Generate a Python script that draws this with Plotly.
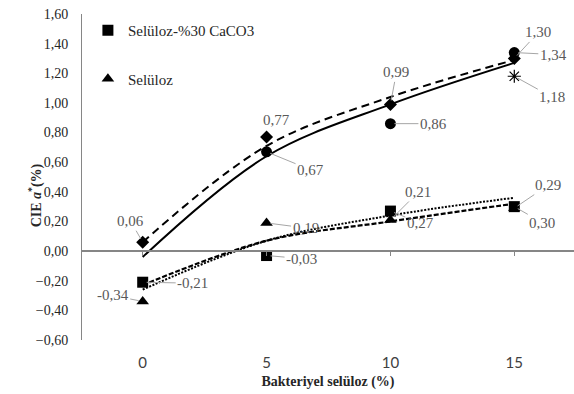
import plotly.graph_objects as go

# ---- data ----
x_vals = [0, 5, 10, 15]

diamond_x = [0, 5, 10, 15]
diamond_y = [0.06, 0.77, 0.99, 1.30]

circle_x = [5, 10, 15]
circle_y = [0.67, 0.86, 1.34]

star_x = [15]
star_y = [1.18]

square_y = [-0.21, -0.03, 0.27, 0.30]     # Selüloz-%30 CaCO3
triangle_y = [-0.34, 0.19, 0.21, 0.29]    # Selüloz

# trend lines (at x = 0, 5, 10, 15)
trend_upper_dash = [0.06, 0.71, 1.04, 1.29]
trend_upper_solid = [-0.04, 0.64, 0.99, 1.27]
trend_lower_dash = [-0.23, 0.07, 0.20, 0.32]
trend_lower_dot = [-0.26, 0.07, 0.24, 0.36]

y_ticks = [-0.6, -0.4, -0.2, 0.0, 0.2, 0.4, 0.6, 0.8, 1.0, 1.2, 1.4, 1.6]
x_ticks = [0, 5, 10, 15]

# labels: (x, y, text, ax, ay)
labels = [
    (0, 0.06, "0,06", -12, -21),
    (5, 0.67, "0,67", 44, 18),
    (10, 0.99, "0,99", 6, -32),
    (10, 0.86, "0,86", 43, 0),
    (15, 1.30, "1,30", 24, -26),
    (15, 1.34, "1,34", 39, 2),
    (15, 1.18, "1,18", 38, 21),
    (10, 0.21, "0,21", 28, -28),
    (10, 0.27, "0,27", 30, 12),
    (15, 0.29, "0,29", 34, -23),
    (15, 0.30, "0,30", 28, 16),
    (5, 0.19, "0,19", 39, 5),
    (5, -0.03, "-0,03", 35, 3),
    (0, -0.21, "-0,21", 50, 1),
    (0, -0.34, "-0,34", -30, -6),
]

SERIF = "Liberation Serif"
GRAY = "#868686"
LBL = "#595959"

fig = go.Figure()

# trend lines
fig.add_trace(go.Scatter(x=x_vals, y=trend_upper_dash, mode="lines", line_shape="spline",
                         line=dict(color="black", width=2, dash="8px,5px"), showlegend=False, hoverinfo="skip"))
fig.add_trace(go.Scatter(x=x_vals, y=trend_upper_solid, mode="lines", line_shape="spline",
                         line=dict(color="black", width=2), showlegend=False, hoverinfo="skip"))
fig.add_trace(go.Scatter(x=x_vals, y=trend_lower_dash, mode="lines", line_shape="spline",
                         line=dict(color="black", width=2.2, dash="5px,2px"), showlegend=False, hoverinfo="skip"))
fig.add_trace(go.Scatter(x=x_vals, y=trend_lower_dot, mode="lines", line_shape="spline",
                         line=dict(color="black", width=2, dash="2px,1.5px"), showlegend=False, hoverinfo="skip"))

# markers
fig.add_trace(go.Scatter(x=diamond_x, y=diamond_y, mode="markers",
                         marker=dict(symbol="diamond", color="black", size=10, opacity=1),
                         showlegend=False))
fig.add_trace(go.Scatter(x=circle_x, y=circle_y, mode="markers",
                         marker=dict(symbol="circle", color="black", size=11, opacity=1),
                         showlegend=False))
fig.add_trace(go.Scatter(x=star_x, y=star_y, mode="markers",
                         marker=dict(symbol="asterisk-open", color="black", size=11,
                                     line=dict(color="black", width=1.2)), showlegend=False))
fig.add_trace(go.Scatter(x=x_vals, y=triangle_y, mode="markers", name="Selüloz",
                         legendgroup="b", legendrank=2,
                         marker=dict(symbol="triangle-up", color="black", size=11, opacity=1)))
fig.add_trace(go.Scatter(x=x_vals, y=square_y, mode="markers", name="Selüloz-%30 CaCO3",
                         legendgroup="a", legendrank=1,
                         marker=dict(symbol="square", color="black", size=11, opacity=1)))

# dummy trace for the zero-line axis
fig.add_trace(go.Scatter(x=x_vals, y=[None] * 4, xaxis="x2", mode="markers",
                         showlegend=False, hoverinfo="skip"))

annotations = []
for (px, py, txt, ax, ay) in labels:
    annotations.append(dict(x=px, y=py, xref="x", yref="y", text=txt, showarrow=True,
                            arrowhead=0, arrowwidth=1, arrowcolor="#a6a6a6", ax=ax, ay=ay,
                            standoff=4, font=dict(family=SERIF, size=15, color=LBL)))
annotations.append(dict(x=5, y=0.77, xref="x", yref="y", text="0,77", showarrow=False,
                        xshift=10, yshift=17, font=dict(family=SERIF, size=15, color=LBL)))
annotations.append(dict(x=-0.116, y=0.445, xref="paper", yref="paper",
                        text="<b>CIE <i>a</i><sup>*</sup>(%)</b>", textangle=-90, showarrow=False,
                        font=dict(family=SERIF, size=14, color="#262626")))

fig.update_layout(
    width=574, height=394,
    margin=dict(l=82, r=0, t=14, b=54),
    paper_bgcolor="white", plot_bgcolor="white",
    separators=",.",
    font=dict(family=SERIF, color="#262626"),
    xaxis=dict(range=[-2.45, 17.41], tickvals=x_ticks, showline=False, zeroline=False,
               showgrid=False, ticks="", ticklabelstandoff=12,
               tickfont=dict(family="Lato", size=15, color="#404040"),
               title=dict(text="<b>Bakteriyel selüloz (%)</b>", standoff=6,
                          font=dict(family=SERIF, size=14, color="#262626"))),
    xaxis2=dict(range=[-2.45, 17.41], overlaying="x", anchor="free", position=0.6 / 2.2,
                tickvals=x_ticks, showticklabels=False, showline=True, linewidth=2,
                linecolor=GRAY, ticks="outside", ticklen=4, tickcolor=GRAY, tickwidth=1,
                zeroline=False, showgrid=False),
    yaxis=dict(range=[-0.6, 1.6], tickvals=y_ticks, tickformat=".2f", showgrid=False,
               zeroline=False, showline=True, linecolor=GRAY, linewidth=1, ticks="",
               ticklabelstandoff=10,
               tickfont=dict(family=SERIF, size=14, color="#262626")),
    legend=dict(x=0.012, y=1.0, xanchor="left", yanchor="top", bgcolor="rgba(0,0,0,0)",
                tracegroupgap=26, itemwidth=30, traceorder="grouped",
                font=dict(family=SERIF, size=15, color="#262626")),
    annotations=annotations,
    showlegend=True,
)

fig.write_html("out.html")
